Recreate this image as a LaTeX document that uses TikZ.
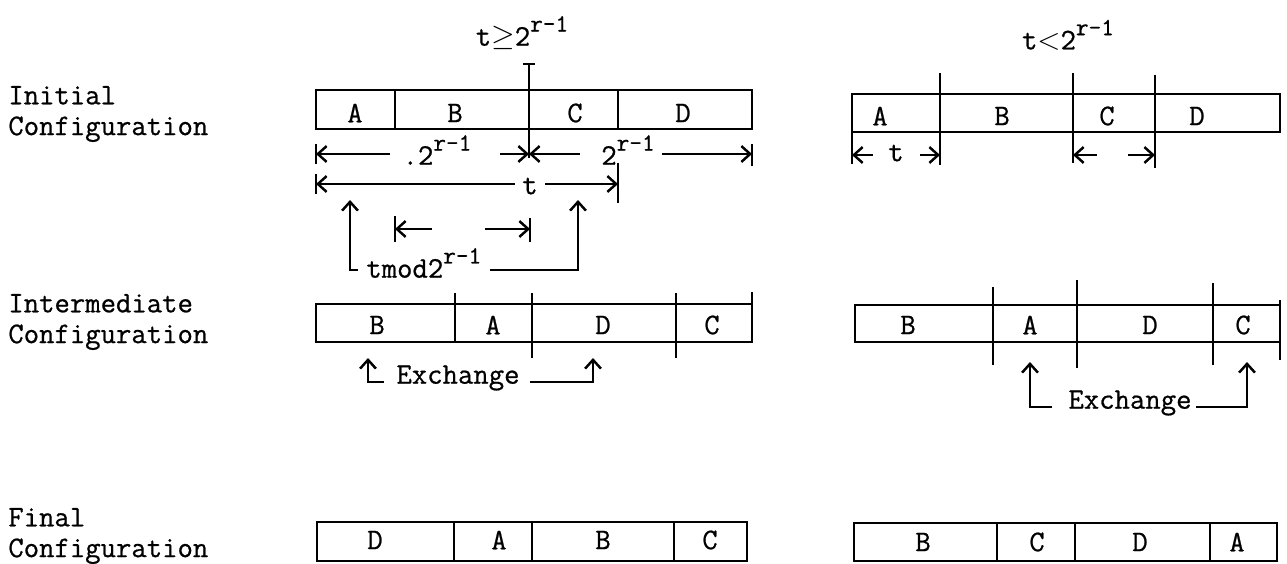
\documentclass[tikz,border=0pt]{standalone}
\usepackage{fontspec}
\setmonofont{Latin Modern Mono}[FakeBold=0.7]
\usetikzlibrary{arrows.meta}

\tikzset{
  box/.style={line width=1.6pt},
  dim/.style={line width=1.4pt},
  txt/.style={font=\ttfamily\fontsize{17}{17}\selectfont, inner sep=0pt},
  head/.style={align=left, anchor=west, inner sep=0pt,
    font=\ttfamily\fontsize{17}{17.5}\selectfont}
}
\newcommand{\pwr}{2\raisebox{1.1ex}{\fontsize{14}{14}\selectfont r-1}}

\begin{document}
\begin{tikzpicture}[x=0.02cm, y=-0.02cm, >={Straight Barb[length=5pt,width=9pt]}]
  \useasboundingbox (0,0) rectangle (1287,564);

  % row headings
  \node[head] (hInit) at (8,114) {Initial\\Configuration};
  \node[head] (hInter) at (8,322) {Intermediate\\Configuration};
  \node[head] (hFinal) at (8,536) {Final\\Configuration};

  % ---- case t >= 2^{r-1} ----
  \node[txt] (condL) at (522,33) {t$\geq$\pwr};
  \draw[box] (316,90) rectangle (752,129);
  \foreach \x in {395,618} \draw[box] (\x,90) -- (\x,129);
  \foreach \c/\x in {A/355,B/455,C/575,D/683} \node[txt] at (\x,113) {\c};
  \draw[dim, {Bar[width=7pt]}-] (529,63) -- (529,158);

  % half lengths
  \node[txt] (halfA) at (437,150) {.\pwr};
  \node[txt] (halfB) at (628,150) {\pwr};
  \draw[dim] (316,144) -- (316,164);
  \draw[dim] (752,144) -- (752,166);
  \draw[dim,<-] (316,154) -- (390,154);
  \draw[dim,->] (500,154) -- (529,154);
  \draw[dim,<-] (529,154) -- (580,154);
  \draw[dim,->] (662,154) -- (752,154);

  % length t
  \node[txt] (tlen) at (530,186) {t};
  \draw[dim] (316,174) -- (316,194);
  \draw[dim] (618,163) -- (618,203);
  \draw[dim,<-] (316,184) -- (515,184);
  \draw[dim,->] (545,184) -- (618,184);

  % remainder
  \draw[dim] (395,216) -- (395,242);
  \draw[dim] (530,218) -- (530,242);
  \draw[dim,<-] (395,229) -- (432,229);
  \draw[dim,->] (485,229) -- (530,229);
  \node[txt, anchor=west] (tmod) at (366,263) {tmod\pwr};
  \draw[dim,->] (358,270) -| (350,200);
  \draw[dim,->] (490,270) -| (578,200);

  % intermediate
  \draw[box] (316,304) rectangle (752,342);
  \draw[box] (455,293) -- (455,342);
  \draw[box] (532,293) -- (532,358);
  \draw[box] (676,293) -- (676,358);
  \draw[box] (752,292) -- (752,342);
  \foreach \c/\x in {B/377,A/493,D/603,C/712} \node[txt] at (\x,325) {\c};
  \node[txt] (exL) at (458,378) {Exchange};
  \draw[dim,->] (384,382) -| (368,358);
  \draw[dim,->] (530,382) -| (593,358);

  % final
  \draw[box] (317,522) rectangle (747,561);
  \foreach \x in {454,532,674} \draw[box] (\x,522) -- (\x,561);
  \foreach \c/\x in {D/375,A/499,B/603,C/710} \node[txt] at (\x,540) {\c};

  % ---- case t < 2^{r-1} ----
  \node[txt] (condR) at (1068,35) {t$<$\pwr};
  \draw[box] (852,94) rectangle (1280,132);
  \draw[box] (940,73) -- (940,165);
  \draw[box] (1073,73) -- (1073,163);
  \draw[box] (1155,75) -- (1155,168);
  \draw[dim] (852,132) -- (852,164);
  \foreach \c/\x in {A/880,B/1002,C/1107,D/1197} \node[txt] at (\x,116) {\c};
  \node[txt] (tR) at (896,153) {t};
  \draw[dim,<-] (852,155) -- (873,155);
  \draw[dim,->] (920,155) -- (940,155);
  \draw[dim,<-] (1073,155) -- (1097,155);
  \draw[dim,->] (1128,155) -- (1155,155);

  % intermediate
  \draw[box] (855,305) rectangle (1280,342);
  \draw[box] (993,287) -- (993,365);
  \draw[box] (1077,280) -- (1077,368);
  \draw[box] (1213,283) -- (1213,365);
  \draw[box] (1280,300) -- (1280,360);
  \foreach \c/\x in {B/908,A/1030,D/1150,C/1243} \node[txt] at (\x,325) {\c};
  \node[txt] (exR) at (1130,403) {Exchange};
  \draw[dim,->] (1052,407) -| (1030,362);
  \draw[dim,->] (1196,407) -| (1247,362);

  % final
  \draw[box] (854,523) rectangle (1277,561);
  \foreach \x in {997,1075,1210} \draw[box] (\x,523) -- (\x,561);
  \foreach \c/\x in {B/923,C/1037,D/1140,A/1237} \node[txt] at (\x,542) {\c};
\end{tikzpicture}
\end{document}
